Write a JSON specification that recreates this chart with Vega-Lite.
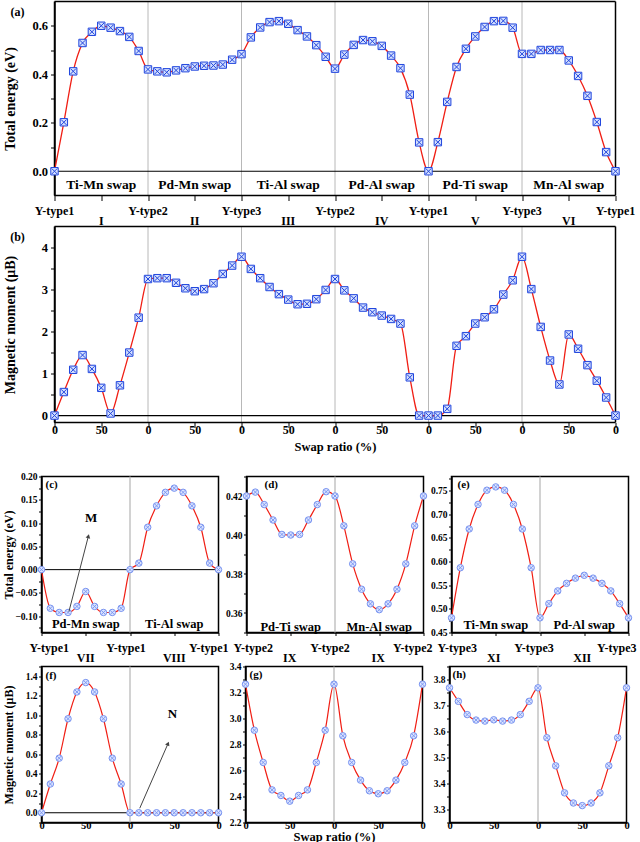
{
"$schema":"https://vega.github.io/schema/vega-lite/v6.json",
"background":"white",
"padding":{"left":0.5,"top":0.5,"right":0,"bottom":0},
"spacing":0,
"columns":1,
"datasets":{
"A":[{"x":0,"v":0},{"x":10,"v":0.202},{"x":20,"v":0.412},{"x":30,"v":0.529},{"x":40,"v":0.575},{"x":50,"v":0.6},{"x":60,"v":0.592},{"x":70,"v":0.578},{"x":80,"v":0.554},{"x":90,"v":0.496},{"x":100,"v":0.42},{"x":110,"v":0.412},{"x":120,"v":0.408},{"x":130,"v":0.416},{"x":140,"v":0.425},{"x":150,"v":0.432},{"x":160,"v":0.435},{"x":170,"v":0.436},{"x":180,"v":0.44},{"x":190,"v":0.46},{"x":200,"v":0.483},{"x":210,"v":0.552},{"x":220,"v":0.593},{"x":230,"v":0.615},{"x":240,"v":0.619},{"x":250,"v":0.608},{"x":260,"v":0.582},{"x":270,"v":0.556},{"x":280,"v":0.52},{"x":290,"v":0.472},{"x":300,"v":0.423},{"x":310,"v":0.481},{"x":320,"v":0.521},{"x":330,"v":0.541},{"x":340,"v":0.536},{"x":350,"v":0.517},{"x":360,"v":0.477},{"x":370,"v":0.425},{"x":380,"v":0.316},{"x":390,"v":0.119},{"x":400,"v":0},{"x":410,"v":0.12},{"x":420,"v":0.286},{"x":430,"v":0.43},{"x":440,"v":0.505},{"x":450,"v":0.556},{"x":460,"v":0.595},{"x":470,"v":0.619},{"x":480,"v":0.62},{"x":490,"v":0.592},{"x":500,"v":0.484},{"x":510,"v":0.484},{"x":520,"v":0.5},{"x":530,"v":0.5},{"x":540,"v":0.5},{"x":550,"v":0.457},{"x":560,"v":0.393},{"x":570,"v":0.311},{"x":580,"v":0.203},{"x":590,"v":0.079},{"x":600,"v":0}],
"B":[{"x":0,"v":0},{"x":10,"v":0.56},{"x":20,"v":1.09},{"x":30,"v":1.44},{"x":40,"v":1.11},{"x":50,"v":0.66},{"x":60,"v":0.05},{"x":70,"v":0.72},{"x":80,"v":1.5},{"x":90,"v":2.33},{"x":100,"v":3.25},{"x":110,"v":3.27},{"x":120,"v":3.27},{"x":130,"v":3.16},{"x":140,"v":3.03},{"x":150,"v":2.96},{"x":160,"v":3.01},{"x":170,"v":3.15},{"x":180,"v":3.37},{"x":190,"v":3.57},{"x":200,"v":3.78},{"x":210,"v":3.49},{"x":220,"v":3.27},{"x":230,"v":3.06},{"x":240,"v":2.89},{"x":250,"v":2.76},{"x":260,"v":2.65},{"x":270,"v":2.66},{"x":280,"v":2.77},{"x":290,"v":2.99},{"x":300,"v":3.25},{"x":310,"v":2.98},{"x":320,"v":2.79},{"x":330,"v":2.57},{"x":340,"v":2.46},{"x":350,"v":2.38},{"x":360,"v":2.3},{"x":370,"v":2.19},{"x":380,"v":0.91},{"x":390,"v":0},{"x":400,"v":0},{"x":410,"v":0},{"x":420,"v":0.16},{"x":430,"v":1.66},{"x":440,"v":1.89},{"x":450,"v":2.19},{"x":460,"v":2.34},{"x":470,"v":2.53},{"x":480,"v":2.88},{"x":490,"v":3.22},{"x":500,"v":3.78},{"x":510,"v":3.01},{"x":520,"v":2.11},{"x":530,"v":1.31},{"x":540,"v":0.74},{"x":550,"v":1.93},{"x":560,"v":1.59},{"x":570,"v":1.2},{"x":580,"v":0.83},{"x":590,"v":0.43},{"x":600,"v":0}],
"C":[{"x":0,"v":0},{"x":10,"v":-0.083},{"x":20,"v":-0.092},{"x":30,"v":-0.092},{"x":40,"v":-0.079},{"x":50,"v":-0.047},{"x":60,"v":-0.079},{"x":70,"v":-0.092},{"x":80,"v":-0.092},{"x":90,"v":-0.083},{"x":100,"v":0},{"x":110,"v":0.014},{"x":120,"v":0.091},{"x":130,"v":0.137},{"x":140,"v":0.166},{"x":150,"v":0.175},{"x":160,"v":0.166},{"x":170,"v":0.137},{"x":180,"v":0.091},{"x":190,"v":0.014},{"x":200,"v":0}],
"D":[{"x":0,"v":0.42},{"x":10,"v":0.422},{"x":20,"v":0.4156},{"x":30,"v":0.4077},{"x":40,"v":0.4003},{"x":50,"v":0.4},{"x":60,"v":0.4003},{"x":70,"v":0.4077},{"x":80,"v":0.4156},{"x":90,"v":0.4222},{"x":100,"v":0.42},{"x":110,"v":0.4047},{"x":120,"v":0.3852},{"x":130,"v":0.3722},{"x":140,"v":0.3647},{"x":150,"v":0.3617},{"x":160,"v":0.3647},{"x":170,"v":0.3722},{"x":180,"v":0.3852},{"x":190,"v":0.4047},{"x":200,"v":0.42}],
"E":[{"x":0,"v":0.481},{"x":10,"v":0.587},{"x":20,"v":0.669},{"x":30,"v":0.721},{"x":40,"v":0.751},{"x":50,"v":0.758},{"x":60,"v":0.751},{"x":70,"v":0.721},{"x":80,"v":0.669},{"x":90,"v":0.587},{"x":100,"v":0.481},{"x":110,"v":0.511},{"x":120,"v":0.538},{"x":130,"v":0.554},{"x":140,"v":0.565},{"x":150,"v":0.571},{"x":160,"v":0.565},{"x":170,"v":0.554},{"x":180,"v":0.538},{"x":190,"v":0.511},{"x":200,"v":0.481}],
"F":[{"x":0,"v":0},{"x":10,"v":0.295},{"x":20,"v":0.56},{"x":30,"v":0.964},{"x":40,"v":1.239},{"x":50,"v":1.335},{"x":60,"v":1.239},{"x":70,"v":0.964},{"x":80,"v":0.56},{"x":90,"v":0.295},{"x":100,"v":0},{"x":110,"v":0},{"x":120,"v":0},{"x":130,"v":0},{"x":140,"v":0},{"x":150,"v":0},{"x":160,"v":0},{"x":170,"v":0},{"x":180,"v":0},{"x":190,"v":0},{"x":200,"v":0}],
"G":[{"x":0,"v":3.264},{"x":10,"v":2.91},{"x":20,"v":2.662},{"x":30,"v":2.451},{"x":40,"v":2.408},{"x":50,"v":2.364},{"x":60,"v":2.408},{"x":70,"v":2.451},{"x":80,"v":2.662},{"x":90,"v":2.91},{"x":100,"v":3.264},{"x":110,"v":2.867},{"x":120,"v":2.662},{"x":130,"v":2.526},{"x":140,"v":2.444},{"x":150,"v":2.421},{"x":160,"v":2.444},{"x":170,"v":2.526},{"x":180,"v":2.662},{"x":190,"v":2.867},{"x":200,"v":3.264}],
"H":[{"x":0,"v":3.768},{"x":10,"v":3.716},{"x":20,"v":3.665},{"x":30,"v":3.644},{"x":40,"v":3.64},{"x":50,"v":3.645},{"x":60,"v":3.64},{"x":70,"v":3.644},{"x":80,"v":3.665},{"x":90,"v":3.716},{"x":100,"v":3.768},{"x":110,"v":3.576},{"x":120,"v":3.468},{"x":130,"v":3.364},{"x":140,"v":3.325},{"x":150,"v":3.315},{"x":160,"v":3.325},{"x":170,"v":3.364},{"x":180,"v":3.468},{"x":190,"v":3.576},{"x":200,"v":3.768}],
"BND":[{"x":100},{"x":200},{"x":300},{"x":400},{"x":500}],
"EDGE":[{"x":0},{"x":600}],
"MID":[{"x":100}],
"ONE":[{"x":0}],
"SA":[{"x":50,"t":"Ti-Mn swap"},{"x":150,"t":"Pd-Mn swap"},{"x":250,"t":"Ti-Al swap"},{"x":350,"t":"Pd-Al swap"},{"x":450,"t":"Pd-Ti swap"},{"x":550,"t":"Mn-Al swap"}],
"HBT":[{"x":0,"t":"Y-type1"},{"x":100,"t":"Y-type2"},{"x":200,"t":"Y-type3"},{"x":300,"t":"Y-type2"},{"x":400,"t":"Y-type1"},{"x":500,"t":"Y-type3"},{"x":600,"t":"Y-type1"}],
"HBN":[{"x":50,"t":"I"},{"x":150,"t":"II"},{"x":250,"t":"III"},{"x":350,"t":"IV"},{"x":450,"t":"V"},{"x":550,"t":"VI"}],
"SC":[{"x":50,"t":"Pd-Mn swap"},{"x":150,"t":"Ti-Al swap"}],
"SD":[{"x":50,"t":"Pd-Ti swap"},{"x":150,"t":"Mn-Al swap"}],
"SE":[{"x":50,"t":"Ti-Mn swap"},{"x":150,"t":"Pd-Al swap"}],
"HF":[{"x":0,"t":"Y-type1"},{"x":100,"t":"Y-type1"},{"x":200,"t":"Y-type1"}],
"HG":[{"x":0,"t":"Y-type2"},{"x":100,"t":"Y-type2"},{"x":200,"t":"Y-type2"}],
"HH":[{"x":0,"t":"Y-type3"},{"x":100,"t":"Y-type3"},{"x":200,"t":"Y-type3"}],
"NF":[{"x":50,"t":"VII"},{"x":150,"t":"VIII"}],
"NG":[{"x":50,"t":"IX"},{"x":150,"t":"IX"}],
"NH":[{"x":50,"t":"XI"},{"x":150,"t":"XII"}],
"AC":[{"x":31,"v":-0.09,"x2":53,"v2":0.072,"t":"M","tx":56,"tv":0.11}],
"AF":[{"x":111,"v":0.046,"x2":143,"v2":0.71,"t":"N","tx":148,"tv":1.01}]
},
"concat":[
{
"width":574,"height":194,
"view":{"stroke":null},
"layer":[
{"data":{"name":"BND"},"mark":{"type":"rule","color":"#b8b8b8","strokeWidth":1},"encoding":{"x":{"field":"x","type":"quantitative"}}},
{"data":{"values":[{"v":0}]},"mark":{"type":"rule","color":"black","strokeWidth":1.2},"encoding":{"y":{"field":"v","type":"quantitative"},"x":{"datum":0,"type":"quantitative"},"x2":{"datum":600}}},
{"data":{"name":"EDGE"},"mark":{"type":"rule","color":"black","strokeWidth":1.5},"encoding":{"x":{"field":"x","type":"quantitative"}}},
{"data":{"values":[{"v":-0.1},{"v":0.7}]},"mark":{"type":"rule","color":"black","strokeWidth":1.5},"encoding":{"y":{"field":"v","type":"quantitative"},"x":{"datum":0,"type":"quantitative"},"x2":{"datum":600}}},
{"data":{"name":"A"},"mark":{"type":"line","color":"#f01e14","strokeWidth":1.3,"interpolate":"monotone"},"encoding":{"x":{"field":"x","type":"quantitative","scale":{"domain":[-13.904,600],"nice":false,"zero":false},"axis":{"values":[0,50,100,150,200,250,300,350,400,450,500,550,600],"tickCount":30,"domain":false,"labels":false,"tickSize":5,"minExtent":6,"maxExtent":6,"title":null}},"y":{"field":"v","type":"quantitative","scale":{"domain":[-0.1,0.7],"nice":false,"zero":false},"axis":{"values":[0,0.1,0.2,0.3,0.4,0.5,0.6],"tickCount":30,"offset":-13,"format":".1f","labelExpr":"round(datum.value*10) % 2 === 0 ? datum.label : ''","labelFontSize":12.5,"tickSize":4,"labelPadding":3,"title":"Total energy (eV)","titleFontSize":14,"titlePadding":2,"minExtent":35.5,"maxExtent":35.5}}}},
{"data":{"name":"A"},"mark":{"type":"point","shape":"square","size":55,"filled":true,"fill":"#d4dffd","stroke":"#2146de","strokeWidth":1,"opacity":1},"encoding":{"x":{"field":"x","type":"quantitative"},"y":{"field":"v","type":"quantitative"}}},
{"data":{"name":"A"},"mark":{"type":"point","shape":"M-0.75,-0.75L0.75,0.75M-0.75,0.75L0.75,-0.75","size":55,"filled":false,"stroke":"#2146de","strokeWidth":1,"opacity":1},"encoding":{"x":{"field":"x","type":"quantitative"},"y":{"field":"v","type":"quantitative"}}},
{"data":{"name":"SA"},"mark":{"type":"text","fontSize":13.5},"encoding":{"x":{"field":"x","type":"quantitative"},"y":{"datum":-0.057,"type":"quantitative"},"text":{"field":"t"}}},
{"data":{"values":[{"t":"(a)"}]},"mark":{"type":"text","fontSize":12,"dx":-37,"dy":10},"encoding":{"x":{"datum":0,"type":"quantitative"},"y":{"datum":0.7,"type":"quantitative"},"text":{"field":"t"}}}
]
},
{
"width":574,"height":196,
"view":{"stroke":null},
"resolve":{"axis":{"x":"independent"}},
"layer":[
{"data":{"name":"BND"},"mark":{"type":"rule","color":"#b8b8b8","strokeWidth":1},"encoding":{"x":{"field":"x","type":"quantitative","axis":null}}},
{"data":{"values":[{"v":0}]},"mark":{"type":"rule","color":"black","strokeWidth":1.2},"encoding":{"y":{"field":"v","type":"quantitative"},"x":{"datum":0,"type":"quantitative","axis":null},"x2":{"datum":600}}},
{"data":{"name":"EDGE"},"mark":{"type":"rule","color":"black","strokeWidth":1.5},"encoding":{"x":{"field":"x","type":"quantitative","axis":null}}},
{"data":{"values":[{"v":-0.165},{"v":4.5}]},"mark":{"type":"rule","color":"black","strokeWidth":1.5},"encoding":{"y":{"field":"v","type":"quantitative"},"x":{"datum":0,"type":"quantitative","axis":null},"x2":{"datum":600}}},
{"data":{"name":"B"},"mark":{"type":"line","color":"#f01e14","strokeWidth":1.3,"interpolate":"monotone"},"encoding":{"x":{"field":"x","type":"quantitative","scale":{"domain":[-13.904,600],"nice":false,"zero":false},"axis":{"values":[0,50,100,150,200,250,300,350,400,450,500,550,600],"tickCount":30,"domain":false,"labelExpr":"datum.value % 100 === 0 ? '0' : '50'","labelFontSize":12,"tickSize":5,"labelPadding":-3,"title":"Swap ratio (%)","titleFontSize":12.5,"titlePadding":5,"titleX":293.5}},"y":{"field":"v","type":"quantitative","scale":{"domain":[-0.165,4.5],"nice":false,"zero":false},"axis":{"values":[0,0.5,1,1.5,2,2.5,3,3.5,4],"tickCount":30,"offset":-13,"labelExpr":"round(datum.value*2) % 2 === 0 ? format(datum.value, 'd') : ''","labelFontSize":12.5,"tickSize":4,"labelPadding":3,"title":"Magnetic moment (μB)","titleFontSize":14,"titlePadding":2,"minExtent":35.5,"maxExtent":35.5}}}},
{"data":{"name":"B"},"mark":{"type":"point","shape":"square","size":55,"filled":true,"fill":"#d4dffd","stroke":"#2146de","strokeWidth":1,"opacity":1},"encoding":{"x":{"field":"x","type":"quantitative","axis":null},"y":{"field":"v","type":"quantitative"}}},
{"data":{"name":"B"},"mark":{"type":"point","shape":"M-0.75,-0.75L0.75,0.75M-0.75,0.75L0.75,-0.75","size":55,"filled":false,"stroke":"#2146de","strokeWidth":1,"opacity":1},"encoding":{"x":{"field":"x","type":"quantitative","axis":null},"y":{"field":"v","type":"quantitative"}}},
{"data":{"name":"HBT"},"mark":{"type":"text","fontSize":12,"dy":-16},"encoding":{"x":{"field":"x","type":"quantitative","axis":null},"y":{"datum":4.5,"type":"quantitative"},"text":{"field":"t"}}},
{"data":{"name":"HBN"},"mark":{"type":"text","fontSize":12,"dy":-6},"encoding":{"x":{"field":"x","type":"quantitative","axis":null},"y":{"datum":4.5,"type":"quantitative"},"text":{"field":"t"}}},
{"data":{"values":[{"t":"(b)"}]},"mark":{"type":"text","fontSize":12,"dx":-37,"dy":10},"encoding":{"x":{"datum":0,"type":"quantitative","axis":null},"y":{"datum":4.5,"type":"quantitative"},"text":{"field":"t"}}},
{"data":{"name":"ONE"},"mark":{"type":"point","opacity":0},"encoding":{"x":{"field":"x","type":"quantitative","axis":{"orient":"top","labels":false,"ticks":false,"domain":false,"title":null,"minExtent":25,"maxExtent":25}}}}
]
},
{
"hconcat":[
{
"width":177,"height":156,
"resolve":{"axis":{"x":"independent"}},
"layer":[
{"data":{"name":"MID"},"mark":{"type":"rule","color":"#b4b4b4","strokeWidth":1.2},"encoding":{"x":{"field":"x","type":"quantitative","axis":null}}},
{"data":{"values":[{"v":0}]},"mark":{"type":"rule","color":"black","strokeWidth":1},"encoding":{"y":{"field":"v","type":"quantitative"}}},
{"data":{"name":"C"},"mark":{"type":"line","color":"#f01e14","strokeWidth":1.2,"interpolate":"monotone"},"encoding":{"x":{"field":"x","type":"quantitative","scale":{"domain":[0,200],"nice":false},"axis":{"values":[0,50,100,150,200],"tickCount":30,"labels":false,"tickSize":3,"minExtent":6,"maxExtent":6,"title":null}},"y":{"field":"v","type":"quantitative","scale":{"domain":[-0.135,0.2],"nice":false,"zero":false},"axis":{"values":[-0.125,-0.1,-0.075,-0.05,-0.025,0,0.025,0.05,0.075,0.1,0.125,0.15,0.175,0.2],"tickCount":30,"format":".2f","labelExpr":"round(datum.value*40) % 2 === 0 ? datum.label : ''","labelFontSize":9.5,"tickSize":3,"labelPadding":1.5,"title":"Total energy (eV)","titleFontSize":12,"titlePadding":2,"minExtent":24.5,"maxExtent":24.5}}}},
{"data":{"name":"C"},"mark":{"type":"point","shape":"circle","size":42,"filled":true,"fill":"#dbe4ff","stroke":"#7893f0","strokeWidth":1,"opacity":1},"encoding":{"x":{"field":"x","type":"quantitative","axis":null},"y":{"field":"v","type":"quantitative"}}},
{"data":{"name":"C"},"mark":{"type":"point","shape":"M-0.65,-0.65L0.65,0.65M-0.65,0.65L0.65,-0.65","size":42,"filled":false,"stroke":"#7893f0","strokeWidth":0.9,"opacity":1},"encoding":{"x":{"field":"x","type":"quantitative","axis":null},"y":{"field":"v","type":"quantitative"}}},
{"data":{"name":"SC"},"mark":{"type":"text","fontSize":12.5},"encoding":{"x":{"field":"x","type":"quantitative","axis":null},"y":{"datum":-0.117,"type":"quantitative"},"text":{"field":"t"}}},
{"data":{"values":[{"t":"(c)"}]},"mark":{"type":"text","fontSize":11,"align":"left","dx":4,"dy":8},"encoding":{"x":{"datum":0,"type":"quantitative","axis":null},"y":{"datum":0.2,"type":"quantitative"},"text":{"field":"t"}}},
{"data":{"name":"AC"},"mark":{"type":"rule","color":"#444444","strokeWidth":1},"encoding":{"x":{"field":"x","type":"quantitative","axis":null},"y":{"field":"v","type":"quantitative"},"x2":{"field":"x2"},"y2":{"field":"v2"}}},
{"data":{"name":"AC"},"mark":{"type":"point","shape":"triangle-up","size":22,"filled":true,"color":"#444444","opacity":1,"angle":14},"encoding":{"x":{"field":"x2","type":"quantitative","axis":null},"y":{"field":"v2","type":"quantitative"}}},
{"data":{"name":"AC"},"mark":{"type":"text","fontSize":13},"encoding":{"x":{"field":"tx","type":"quantitative","axis":null},"y":{"field":"tv","type":"quantitative"},"text":{"field":"t"}}},
{"data":{"name":"ONE"},"mark":{"type":"point","opacity":0},"encoding":{"x":{"field":"x","type":"quantitative","axis":{"orient":"top","labels":false,"ticks":false,"domain":false,"title":null,"minExtent":22,"maxExtent":22}}}}
]
},
{
"width":177,"height":156,
"resolve":{"axis":{"x":"independent"}},
"layer":[
{"data":{"name":"MID"},"mark":{"type":"rule","color":"#b4b4b4","strokeWidth":1.2},"encoding":{"x":{"field":"x","type":"quantitative","axis":null}}},
{"data":{"name":"D"},"mark":{"type":"line","color":"#f01e14","strokeWidth":1.2,"interpolate":"monotone"},"encoding":{"x":{"field":"x","type":"quantitative","scale":{"domain":[0,200],"nice":false},"axis":{"values":[0,50,100,150,200],"tickCount":30,"labels":false,"tickSize":3,"minExtent":6,"maxExtent":6,"title":null}},"y":{"field":"v","type":"quantitative","scale":{"domain":[0.35,0.43],"nice":false,"zero":false},"axis":{"values":[0.35,0.36,0.37,0.38,0.39,0.4,0.41,0.42,0.43],"tickCount":30,"format":".2f","labelExpr":"round(datum.value*100) % 2 === 0 ? datum.label : ''","labelFontSize":9.5,"tickSize":3,"labelPadding":1.5,"title":null}}}},
{"data":{"name":"D"},"mark":{"type":"point","shape":"circle","size":42,"filled":true,"fill":"#dbe4ff","stroke":"#7893f0","strokeWidth":1,"opacity":1},"encoding":{"x":{"field":"x","type":"quantitative","axis":null},"y":{"field":"v","type":"quantitative"}}},
{"data":{"name":"D"},"mark":{"type":"point","shape":"M-0.65,-0.65L0.65,0.65M-0.65,0.65L0.65,-0.65","size":42,"filled":false,"stroke":"#7893f0","strokeWidth":0.9,"opacity":1},"encoding":{"x":{"field":"x","type":"quantitative","axis":null},"y":{"field":"v","type":"quantitative"}}},
{"data":{"name":"SD"},"mark":{"type":"text","fontSize":12.5},"encoding":{"x":{"field":"x","type":"quantitative","axis":null},"y":{"datum":0.353,"type":"quantitative"},"text":{"field":"t"}}},
{"data":{"values":[{"t":"(d)"}]},"mark":{"type":"text","fontSize":11,"align":"left","dx":18,"dy":8},"encoding":{"x":{"datum":0,"type":"quantitative","axis":null},"y":{"datum":0.43,"type":"quantitative"},"text":{"field":"t"}}},
{"data":{"name":"ONE"},"mark":{"type":"point","opacity":0},"encoding":{"x":{"field":"x","type":"quantitative","axis":{"orient":"top","labels":false,"ticks":false,"domain":false,"title":null,"minExtent":22,"maxExtent":22}}}}
]
},
{
"width":177,"height":156,
"resolve":{"axis":{"x":"independent"}},
"layer":[
{"data":{"name":"MID"},"mark":{"type":"rule","color":"#b4b4b4","strokeWidth":1.2},"encoding":{"x":{"field":"x","type":"quantitative","axis":null}}},
{"data":{"name":"E"},"mark":{"type":"line","color":"#f01e14","strokeWidth":1.2,"interpolate":"monotone"},"encoding":{"x":{"field":"x","type":"quantitative","scale":{"domain":[0,200],"nice":false},"axis":{"values":[0,50,100,150,200],"tickCount":30,"labels":false,"tickSize":3,"minExtent":6,"maxExtent":6,"title":null}},"y":{"field":"v","type":"quantitative","scale":{"domain":[0.45,0.78],"nice":false,"zero":false},"axis":{"values":[0.45,0.475,0.5,0.525,0.55,0.575,0.6,0.625,0.65,0.675,0.7,0.725,0.75,0.775],"tickCount":30,"format":".2f","labelExpr":"round(datum.value*40) % 2 === 0 ? datum.label : ''","labelFontSize":9.5,"tickSize":3,"labelPadding":1.5,"title":null}}}},
{"data":{"name":"E"},"mark":{"type":"point","shape":"circle","size":42,"filled":true,"fill":"#dbe4ff","stroke":"#7893f0","strokeWidth":1,"opacity":1},"encoding":{"x":{"field":"x","type":"quantitative","axis":null},"y":{"field":"v","type":"quantitative"}}},
{"data":{"name":"E"},"mark":{"type":"point","shape":"M-0.65,-0.65L0.65,0.65M-0.65,0.65L0.65,-0.65","size":42,"filled":false,"stroke":"#7893f0","strokeWidth":0.9,"opacity":1},"encoding":{"x":{"field":"x","type":"quantitative","axis":null},"y":{"field":"v","type":"quantitative"}}},
{"data":{"name":"SE"},"mark":{"type":"text","fontSize":12.5},"encoding":{"x":{"field":"x","type":"quantitative","axis":null},"y":{"datum":0.465,"type":"quantitative"},"text":{"field":"t"}}},
{"data":{"values":[{"t":"(e)"}]},"mark":{"type":"text","fontSize":11,"align":"left","dx":6,"dy":8},"encoding":{"x":{"datum":0,"type":"quantitative","axis":null},"y":{"datum":0.78,"type":"quantitative"},"text":{"field":"t"}}},
{"data":{"name":"ONE"},"mark":{"type":"point","opacity":0},"encoding":{"x":{"field":"x","type":"quantitative","axis":{"orient":"top","labels":false,"ticks":false,"domain":false,"title":null,"minExtent":22,"maxExtent":22}}}}
]
}
],
"spacing":0
},
{
"hconcat":[
{
"width":177,"height":156,
"resolve":{"axis":{"x":"independent"}},
"layer":[
{"data":{"name":"MID"},"mark":{"type":"rule","color":"#b4b4b4","strokeWidth":1.2},"encoding":{"x":{"field":"x","type":"quantitative","axis":null}}},
{"data":{"values":[{"v":0}]},"mark":{"type":"rule","color":"black","strokeWidth":1},"encoding":{"y":{"field":"v","type":"quantitative"}}},
{"data":{"name":"F"},"mark":{"type":"line","color":"#f01e14","strokeWidth":1.2,"interpolate":"monotone"},"encoding":{"x":{"field":"x","type":"quantitative","scale":{"domain":[0,200],"nice":false},"axis":{"values":[0,50,100,150,200],"tickCount":30,"labelExpr":"datum.value % 100 === 0 ? '0' : '50'","labelFontSize":10.5,"tickSize":1,"labelPadding":-3,"title":null}},"y":{"field":"v","type":"quantitative","scale":{"domain":[-0.1,1.5],"nice":false,"zero":false},"axis":{"values":[-0.1,0,0.1,0.2,0.3,0.4,0.5,0.6,0.7,0.8,0.9,1,1.1,1.2,1.3,1.4,1.5],"tickCount":30,"format":".1f","labelExpr":"round(datum.value*10) % 2 === 0 ? datum.label : ''","labelFontSize":9.5,"tickSize":3,"labelPadding":1.5,"title":"Magnetic moment (μB)","titleFontSize":12,"titlePadding":2,"minExtent":24.5,"maxExtent":24.5}}}},
{"data":{"name":"F"},"mark":{"type":"point","shape":"circle","size":42,"filled":true,"fill":"#dbe4ff","stroke":"#7893f0","strokeWidth":1,"opacity":1},"encoding":{"x":{"field":"x","type":"quantitative","axis":null},"y":{"field":"v","type":"quantitative"}}},
{"data":{"name":"F"},"mark":{"type":"point","shape":"M-0.65,-0.65L0.65,0.65M-0.65,0.65L0.65,-0.65","size":42,"filled":false,"stroke":"#7893f0","strokeWidth":0.9,"opacity":1},"encoding":{"x":{"field":"x","type":"quantitative","axis":null},"y":{"field":"v","type":"quantitative"}}},
{"data":{"name":"HF"},"transform":[{"filter":"datum.x == 0"}],"mark":{"type":"text","fontSize":12,"align":"left","dx":-12,"dy":-19},"encoding":{"x":{"field":"x","type":"quantitative","axis":null},"y":{"datum":1.5,"type":"quantitative"},"text":{"field":"t"}}},
{"data":{"name":"HF"},"transform":[{"filter":"datum.x == 100"}],"mark":{"type":"text","fontSize":12,"dx":-4,"dy":-19},"encoding":{"x":{"field":"x","type":"quantitative","axis":null},"y":{"datum":1.5,"type":"quantitative"},"text":{"field":"t"}}},
{"data":{"name":"HF"},"transform":[{"filter":"datum.x == 200"}],"mark":{"type":"text","fontSize":12,"align":"right","dx":10,"dy":-19},"encoding":{"x":{"field":"x","type":"quantitative","axis":null},"y":{"datum":1.5,"type":"quantitative"},"text":{"field":"t"}}},
{"data":{"name":"NF"},"mark":{"type":"text","fontSize":12,"dy":-8.5},"encoding":{"x":{"field":"x","type":"quantitative","axis":null},"y":{"datum":1.5,"type":"quantitative"},"text":{"field":"t"}}},
{"data":{"values":[{"t":"(f)"}]},"mark":{"type":"text","fontSize":11,"align":"left","dx":4,"dy":9.5},"encoding":{"x":{"datum":0,"type":"quantitative","axis":null},"y":{"datum":1.5,"type":"quantitative"},"text":{"field":"t"}}},
{"data":{"name":"AF"},"mark":{"type":"rule","color":"#444444","strokeWidth":1},"encoding":{"x":{"field":"x","type":"quantitative","axis":null},"y":{"field":"v","type":"quantitative"},"x2":{"field":"x2"},"y2":{"field":"v2"}}},
{"data":{"name":"AF"},"mark":{"type":"point","shape":"triangle-up","size":22,"filled":true,"color":"#444444","opacity":1,"angle":24},"encoding":{"x":{"field":"x2","type":"quantitative","axis":null},"y":{"field":"v2","type":"quantitative"}}},
{"data":{"name":"AF"},"mark":{"type":"text","fontSize":13},"encoding":{"x":{"field":"tx","type":"quantitative","axis":null},"y":{"field":"tv","type":"quantitative"},"text":{"field":"t"}}},
{"data":{"name":"ONE"},"mark":{"type":"point","opacity":0},"encoding":{"x":{"field":"x","type":"quantitative","axis":{"orient":"top","labels":false,"ticks":false,"domain":false,"title":null,"minExtent":26,"maxExtent":26}}}}
]
},
{
"width":177,"height":156,
"resolve":{"axis":{"x":"independent"}},
"layer":[
{"data":{"name":"MID"},"mark":{"type":"rule","color":"#b4b4b4","strokeWidth":1.2},"encoding":{"x":{"field":"x","type":"quantitative","axis":null}}},
{"data":{"name":"G"},"mark":{"type":"line","color":"#f01e14","strokeWidth":1.2,"interpolate":"monotone"},"encoding":{"x":{"field":"x","type":"quantitative","scale":{"domain":[0,200],"nice":false},"axis":{"values":[0,50,100,150,200],"tickCount":30,"labelExpr":"datum.value % 100 === 0 ? '0' : '50'","labelFontSize":10.5,"tickSize":1,"labelPadding":-3,"title":"Swap ratio (%)","titleFontSize":12.5,"titlePadding":-1}},"y":{"field":"v","type":"quantitative","scale":{"domain":[2.2,3.4],"nice":false,"zero":false},"axis":{"values":[2.2,2.3,2.4,2.5,2.6,2.7,2.8,2.9,3,3.1,3.2,3.3,3.4],"tickCount":30,"format":".1f","labelExpr":"round(datum.value*10) % 2 === 0 ? datum.label : ''","labelFontSize":9.5,"tickSize":3,"labelPadding":1.5,"title":null}}}},
{"data":{"name":"G"},"mark":{"type":"point","shape":"circle","size":42,"filled":true,"fill":"#dbe4ff","stroke":"#7893f0","strokeWidth":1,"opacity":1},"encoding":{"x":{"field":"x","type":"quantitative","axis":null},"y":{"field":"v","type":"quantitative"}}},
{"data":{"name":"G"},"mark":{"type":"point","shape":"M-0.65,-0.65L0.65,0.65M-0.65,0.65L0.65,-0.65","size":42,"filled":false,"stroke":"#7893f0","strokeWidth":0.9,"opacity":1},"encoding":{"x":{"field":"x","type":"quantitative","axis":null},"y":{"field":"v","type":"quantitative"}}},
{"data":{"name":"HG"},"transform":[{"filter":"datum.x == 0"}],"mark":{"type":"text","fontSize":12,"align":"left","dx":-12,"dy":-19},"encoding":{"x":{"field":"x","type":"quantitative","axis":null},"y":{"datum":3.4,"type":"quantitative"},"text":{"field":"t"}}},
{"data":{"name":"HG"},"transform":[{"filter":"datum.x == 100"}],"mark":{"type":"text","fontSize":12,"dx":-4,"dy":-19},"encoding":{"x":{"field":"x","type":"quantitative","axis":null},"y":{"datum":3.4,"type":"quantitative"},"text":{"field":"t"}}},
{"data":{"name":"HG"},"transform":[{"filter":"datum.x == 200"}],"mark":{"type":"text","fontSize":12,"align":"right","dx":10,"dy":-19},"encoding":{"x":{"field":"x","type":"quantitative","axis":null},"y":{"datum":3.4,"type":"quantitative"},"text":{"field":"t"}}},
{"data":{"name":"NG"},"mark":{"type":"text","fontSize":12,"dy":-8.5},"encoding":{"x":{"field":"x","type":"quantitative","axis":null},"y":{"datum":3.4,"type":"quantitative"},"text":{"field":"t"}}},
{"data":{"values":[{"t":"(g)"}]},"mark":{"type":"text","fontSize":11,"align":"left","dx":4,"dy":8},"encoding":{"x":{"datum":0,"type":"quantitative","axis":null},"y":{"datum":3.4,"type":"quantitative"},"text":{"field":"t"}}},
{"data":{"name":"ONE"},"mark":{"type":"point","opacity":0},"encoding":{"x":{"field":"x","type":"quantitative","axis":{"orient":"top","labels":false,"ticks":false,"domain":false,"title":null,"minExtent":26,"maxExtent":26}}}}
]
},
{
"width":177,"height":156,
"resolve":{"axis":{"x":"independent"}},
"layer":[
{"data":{"name":"MID"},"mark":{"type":"rule","color":"#b4b4b4","strokeWidth":1.2},"encoding":{"x":{"field":"x","type":"quantitative","axis":null}}},
{"data":{"name":"H"},"mark":{"type":"line","color":"#f01e14","strokeWidth":1.2,"interpolate":"monotone"},"encoding":{"x":{"field":"x","type":"quantitative","scale":{"domain":[0,200],"nice":false},"axis":{"values":[0,50,100,150,200],"tickCount":30,"labelExpr":"datum.value % 100 === 0 ? '0' : '50'","labelFontSize":10.5,"tickSize":1,"labelPadding":-3,"title":null}},"y":{"field":"v","type":"quantitative","scale":{"domain":[3.25,3.85],"nice":false,"zero":false},"axis":{"values":[3.25,3.3,3.35,3.4,3.45,3.5,3.55,3.6,3.65,3.7,3.75,3.8,3.85],"tickCount":30,"format":".1f","labelExpr":"round(datum.value*20) % 2 === 0 ? datum.label : ''","labelFontSize":9.5,"tickSize":3,"labelPadding":1.5,"title":null}}}},
{"data":{"name":"H"},"mark":{"type":"point","shape":"circle","size":42,"filled":true,"fill":"#dbe4ff","stroke":"#7893f0","strokeWidth":1,"opacity":1},"encoding":{"x":{"field":"x","type":"quantitative","axis":null},"y":{"field":"v","type":"quantitative"}}},
{"data":{"name":"H"},"mark":{"type":"point","shape":"M-0.65,-0.65L0.65,0.65M-0.65,0.65L0.65,-0.65","size":42,"filled":false,"stroke":"#7893f0","strokeWidth":0.9,"opacity":1},"encoding":{"x":{"field":"x","type":"quantitative","axis":null},"y":{"field":"v","type":"quantitative"}}},
{"data":{"name":"HH"},"transform":[{"filter":"datum.x == 0"}],"mark":{"type":"text","fontSize":12,"align":"left","dx":-12,"dy":-19},"encoding":{"x":{"field":"x","type":"quantitative","axis":null},"y":{"datum":3.85,"type":"quantitative"},"text":{"field":"t"}}},
{"data":{"name":"HH"},"transform":[{"filter":"datum.x == 100"}],"mark":{"type":"text","fontSize":12,"dx":-4,"dy":-19},"encoding":{"x":{"field":"x","type":"quantitative","axis":null},"y":{"datum":3.85,"type":"quantitative"},"text":{"field":"t"}}},
{"data":{"name":"HH"},"transform":[{"filter":"datum.x == 200"}],"mark":{"type":"text","fontSize":12,"align":"right","dx":10,"dy":-19},"encoding":{"x":{"field":"x","type":"quantitative","axis":null},"y":{"datum":3.85,"type":"quantitative"},"text":{"field":"t"}}},
{"data":{"name":"NH"},"mark":{"type":"text","fontSize":12,"dy":-8.5},"encoding":{"x":{"field":"x","type":"quantitative","axis":null},"y":{"datum":3.85,"type":"quantitative"},"text":{"field":"t"}}},
{"data":{"values":[{"t":"(h)"}]},"mark":{"type":"text","fontSize":11,"align":"left","dx":3,"dy":8},"encoding":{"x":{"datum":0,"type":"quantitative","axis":null},"y":{"datum":3.85,"type":"quantitative"},"text":{"field":"t"}}},
{"data":{"name":"ONE"},"mark":{"type":"point","opacity":0},"encoding":{"x":{"field":"x","type":"quantitative","axis":{"orient":"top","labels":false,"ticks":false,"domain":false,"title":null,"minExtent":26,"maxExtent":26}}}}
]
}
],
"spacing":-2
}
],
"config":{
"view":{"stroke":"black","strokeWidth":1.5},
"axis":{"labelFont":"Liberation Serif","labelFontWeight":"bold","labelColor":"black","titleFont":"Liberation Serif","titleFontWeight":"bold","titleColor":"black","domainColor":"black","domainWidth":1.5,"tickColor":"black","tickWidth":1,"grid":false,"labelFlush":false,"labelOverlap":false},
"text":{"font":"Liberation Serif","fontWeight":"bold","color":"black"}
}
}
